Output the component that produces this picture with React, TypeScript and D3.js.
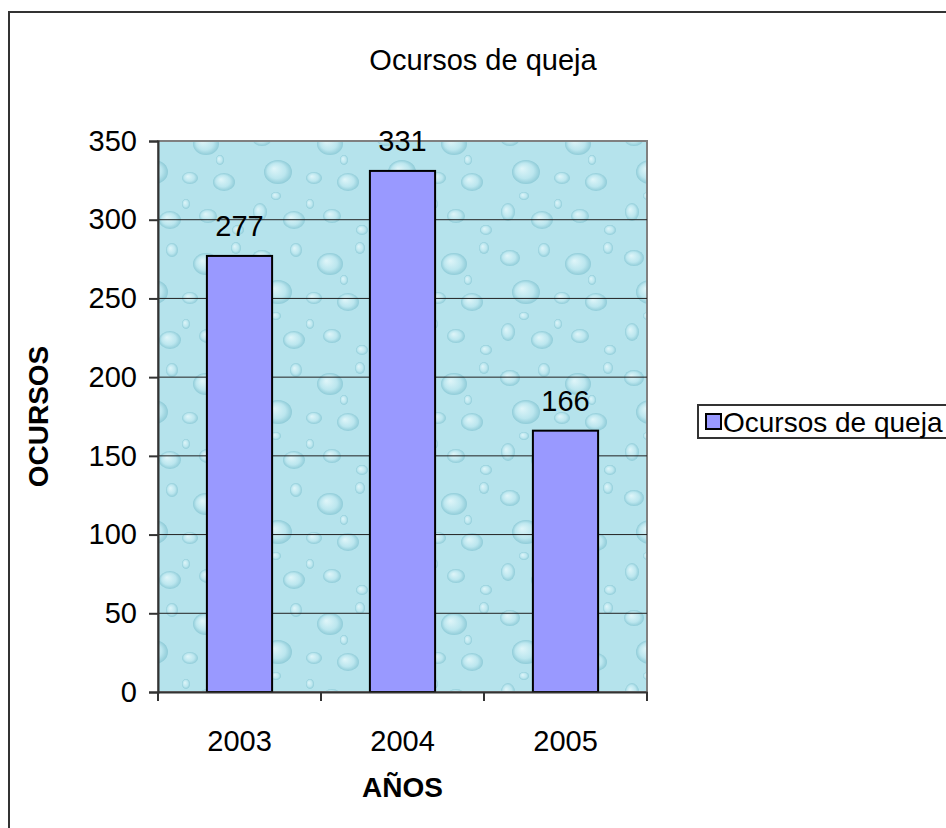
import React, { useEffect, useRef } from "react";
import * as d3 from "d3";

const years = ["2003", "2004", "2005"];
const recursos = [277, 331, 166];
const yTicks = [0, 50, 100, 150, 200, 250, 300, 350];
const seriesName = "Ocursos de queja";

// drops of the water texture inside the pattern tile: [cx, cy, rx, ry]
const drops = [
  [14, 18, 10, 8], [48, 10, 6, 7], [82, 24, 13, 11], [112, 8, 5, 6], [30, 52, 14, 12],
  [66, 58, 8, 6], [100, 62, 11, 9], [12, 92, 7, 9], [46, 100, 11, 9], [84, 96, 9, 7],
  [114, 110, 6, 5], [62, 84, 4, 5], [28, 76, 5, 4], [96, 40, 4, 5],
];

const App = () => {
  const svgRef = useRef(null);

  useEffect(() => {
    const svg = d3.select(svgRef.current);
    svg.selectAll("*").remove();
    const W = 946;
    const H = 828;
    const font = "Liberation Sans, Arial, sans-serif";

    svg.attr("width", W).attr("height", H).style("background", "white");

    const plot = { left: 158, top: 141, right: 647, bottom: 692 };

    const x = d3
      .scaleBand()
      .domain(years)
      .range([plot.left, plot.right])
      .paddingInner(0.6)
      .paddingOuter(0.3);
    const band = d3.scaleBand().domain(years).range([plot.left, plot.right]);
    const y = d3.scaleLinear().domain([0, 350]).range([plot.bottom, plot.top]);

    // water texture
    const defs = svg.append("defs");
    const grad = defs.append("radialGradient").attr("id", "drop").attr("fx", "35%").attr("fy", "35%");
    grad.append("stop").attr("offset", "0%").attr("stop-color", "#eafafc");
    grad.append("stop").attr("offset", "65%").attr("stop-color", "#bde7ef");
    grad.append("stop").attr("offset", "100%").attr("stop-color", "#86c6d3");
    const pat = defs
      .append("pattern")
      .attr("id", "water")
      .attr("patternUnits", "userSpaceOnUse")
      .attr("width", 124)
      .attr("height", 120);
    pat.append("rect").attr("width", 124).attr("height", 120).attr("fill", "#b5e3ec");
    pat
      .selectAll("ellipse")
      .data(drops)
      .join("ellipse")
      .attr("cx", (d) => d[0])
      .attr("cy", (d) => d[1])
      .attr("rx", (d) => d[2])
      .attr("ry", (d) => d[3])
      .attr("fill", "url(#drop)")
      .attr("opacity", 0.8);

    // outer chart border
    svg
      .append("rect")
      .attr("x", 9)
      .attr("y", 12)
      .attr("width", W + 20)
      .attr("height", H + 20)
      .attr("fill", "none")
      .attr("stroke", "#333")
      .attr("stroke-width", 2);

    // plot background
    svg
      .append("rect")
      .attr("x", plot.left)
      .attr("y", plot.top)
      .attr("width", plot.right - plot.left)
      .attr("height", plot.bottom - plot.top)
      .attr("fill", "url(#water)")
      .attr("stroke", "#808080")
      .attr("stroke-width", 2);

    // gridlines
    svg
      .append("g")
      .selectAll("line")
      .data(yTicks.filter((t) => t > 0 && t < 350))
      .join("line")
      .attr("x1", plot.left)
      .attr("x2", plot.right)
      .attr("y1", (d) => y(d))
      .attr("y2", (d) => y(d))
      .attr("stroke", "#222")
      .attr("stroke-width", 1);

    // bars
    svg
      .append("g")
      .selectAll("rect")
      .data(recursos)
      .join("rect")
      .attr("x", (d, i) => x(years[i]))
      .attr("y", (d) => y(d))
      .attr("width", x.bandwidth())
      .attr("height", (d) => y(0) - y(d))
      .attr("fill", "#9999ff")
      .attr("stroke", "#000")
      .attr("stroke-width", 2);

    // value labels
    svg
      .append("g")
      .selectAll("text")
      .data(recursos)
      .join("text")
      .attr("x", (d, i) => x(years[i]) + x.bandwidth() / 2)
      .attr("y", (d) => y(d) - 20)
      .attr("text-anchor", "middle")
      .style("font-family", font)
      .style("font-size", "29px")
      .text((d) => d);

    // y axis
    const yAxis = svg.append("g").attr("transform", `translate(${plot.left},0)`);
    yAxis
      .call(d3.axisLeft(y).tickValues(yTicks).tickSize(9).tickPadding(12))
      .call((g) => g.select(".domain").attr("stroke", "#333").attr("stroke-width", 2))
      .call((g) => g.selectAll(".tick line").attr("stroke", "#333").attr("stroke-width", 2))
      .call((g) =>
        g
          .selectAll(".tick text")
          .style("font-family", font)
          .style("font-size", "29px")
          .attr("fill", "#000")
      );

    // x axis
    const xAxis = svg.append("g").attr("transform", `translate(0,${plot.bottom})`);
    xAxis
      .call(d3.axisBottom(band).tickSize(0).tickPadding(38))
      .call((g) => g.select(".domain").attr("stroke", "#333").attr("stroke-width", 2))
      .call((g) =>
        g
          .selectAll(".tick text")
          .style("font-family", font)
          .style("font-size", "29px")
          .attr("fill", "#000")
      );
    xAxis
      .append("g")
      .selectAll("line")
      .data([...years.map((c) => band(c)), plot.right])
      .join("line")
      .attr("x1", (d) => d)
      .attr("x2", (d) => d)
      .attr("y1", 0)
      .attr("y2", 9)
      .attr("stroke", "#333")
      .attr("stroke-width", 2);

    // title
    svg
      .append("text")
      .attr("x", 483)
      .attr("y", 70)
      .attr("text-anchor", "middle")
      .style("font-family", font)
      .style("font-size", "29px")
      .text(seriesName);

    // axis titles
    svg
      .append("text")
      .attr("x", (plot.left + plot.right) / 2)
      .attr("y", 797)
      .attr("text-anchor", "middle")
      .style("font-family", font)
      .style("font-size", "28px")
      .style("font-weight", "bold")
      .text("AÑOS");
    svg
      .append("text")
      .attr("transform", `translate(48,${(plot.top + plot.bottom) / 2}) rotate(-90)`)
      .attr("text-anchor", "middle")
      .style("font-family", font)
      .style("font-size", "28px")
      .style("font-weight", "bold")
      .text("OCURSOS");

    // legend
    const lg = svg.append("g").attr("transform", "translate(698,405)");
    lg.append("rect")
      .attr("width", 300)
      .attr("height", 33)
      .attr("fill", "white")
      .attr("stroke", "#333")
      .attr("stroke-width", 2);
    lg.append("rect")
      .attr("x", 8)
      .attr("y", 9)
      .attr("width", 15)
      .attr("height", 15)
      .attr("fill", "#9999ff")
      .attr("stroke", "#000")
      .attr("stroke-width", 2);
    lg.append("text")
      .attr("x", 25)
      .attr("y", 27)
      .style("font-family", font)
      .style("font-size", "28px")
      .text(seriesName);
  }, []);

  return (
    <svg
      ref={svgRef}
      style={{ position: "absolute", left: 0, top: 0, display: "block" }}
    ></svg>
  );
};

export default App;
